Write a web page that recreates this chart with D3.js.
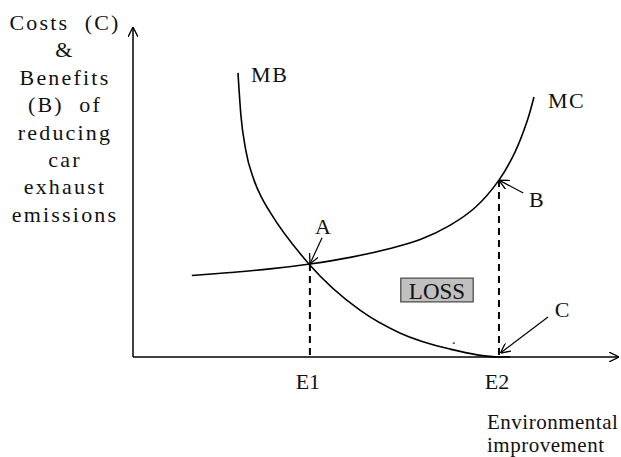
<!DOCTYPE html>
<html>
<head>
<meta charset="utf-8">
<script src="https://cdn.jsdelivr.net/npm/d3@7"></script>
<style>
  body { margin: 0; background: #fff; }
  text { font-family: "Liberation Serif", "Times New Roman", serif; fill: #111; }
</style>
</head>
<body>
<div id="chart"></div>
<script>
// curve data (abstract units, 0-10 on both axes)
var mbX = [2.16, 2.22, 2.32, 2.49, 2.65, 2.82, 3.62, 4.67, 5.49, 6.52, 7.53, 7.76]
var mbY = [8.61, 7.33, 6.27, 5.36, 4.82, 4.39, 2.82, 1.42, 0.73, 0.24, 0.00, 0.00]

var mcX = [1.21, 2.00, 2.82, 3.64, 4.47, 5.29, 5.91, 6.52, 7.04, 7.53, 7.86, 8.11, 8.25]
var mcY = [2.47, 2.56, 2.67, 2.82, 3.02, 3.29, 3.56, 3.99, 4.53, 5.36, 6.21, 7.15, 7.88]

// equilibrium points on the x axis
var eLabels = ["E1", "E2"]
var eX = [3.64, 7.53]
var eTop = [2.82, 5.36]

var yLabelLines = ["Costs  (C)", "&", "Benefits", "(B)  of", "reducing", "car", "exhaust", "emissions"]
var xLabelLines = ["Environmental", "improvement"]

var width = 621
var height = 457

var svg = d3.select("#chart")
    .append("svg")
    .attr("width", width)
    .attr("height", height)

var x = d3.scaleLinear()
    .domain([0, 10])
    .range([133, 619])

var y = d3.scaleLinear()
    .domain([0, 10])
    .range([357, 27])

// arrow heads (open V)
var defs = svg.append("defs")
defs.append("marker")
    .attr("id", "arr")
    .attr("viewBox", "0 0 10 10")
    .attr("refX", 10)
    .attr("refY", 5)
    .attr("markerWidth", 10)
    .attr("markerHeight", 10)
    .attr("markerUnits", "userSpaceOnUse")
    .attr("orient", "auto")
    .append("path")
    .attr("d", "M0,0 L10,5 L0,10")
    .attr("fill", "none")
    .attr("stroke", "#000")
    .attr("stroke-width", 1.3)

// axes
svg.append("line")
    .attr("x1", x(0)).attr("y1", y(0))
    .attr("x2", x(0)).attr("y2", y(10))
    .attr("stroke", "#000")
    .attr("stroke-width", 1.5)
    .attr("marker-end", "url(#arr)")

svg.append("line")
    .attr("x1", x(0)).attr("y1", y(0))
    .attr("x2", x(10)).attr("y2", y(0))
    .attr("stroke", "#000")
    .attr("stroke-width", 1.5)
    .attr("marker-end", "url(#arr)")

var mbLine = d3.line()
    .x(d => x(d[0]))
    .y(d => y(d[1]))
    .curve(d3.curveMonotoneX)

var mcLine = d3.line()
    .x(d => x(d[0]))
    .y(d => y(d[1]))
    .curve(d3.curveCatmullRom.alpha(0.5))

//MB and MC curves
svg.append("path")
    .datum(d3.zip(mbX, mbY))
    .attr("d", mbLine)
    .attr("fill", "none")
    .attr("stroke", "#000")
    .attr("stroke-width", 1.6)

svg.append("path")
    .datum(d3.zip(mcX, mcY))
    .attr("d", mcLine)
    .attr("fill", "none")
    .attr("stroke", "#000")
    .attr("stroke-width", 1.6)

// dashed drop lines
svg.selectAll(".drop")
    .data(eX)
    .enter()
    .append("line")
    .attr("x1", d => x(d)).attr("x2", d => x(d))
    .attr("y1", (d, i) => y(eTop[i]))
    .attr("y2", y(0))
    .attr("stroke", "#000")
    .attr("stroke-width", 2)
    .attr("stroke-dasharray", "7,5")

svg.selectAll(".eLabel")
    .data(eLabels)
    .enter()
    .append("text")
    .attr("x", (d, i) => x(eX[i]) - 2)
    .attr("y", 389)
    .attr("text-anchor", "middle")
    .style("font-size", "22px")
    .text(d => d)

// curve names
svg.append("text")
    .attr("x", x(2.43)).attr("y", y(8.33))
    .style("font-size", "22px")
    .style("letter-spacing", "1.5px")
    .text("MB")

svg.append("text")
    .attr("x", x(8.54)).attr("y", y(7.55))
    .style("font-size", "22px")
    .style("letter-spacing", "1.5px")
    .text("MC")

// point labels with arrows: [text x, text y, tail x, tail y, tip x, tip y]
var pointNames = ["A", "B", "C"]
var pointPos = [
    [3.91, 3.73, 3.89, 3.61, 3.64, 2.82],
    [8.30, 4.55, 8.03, 4.97, 7.53, 5.36],
    [8.83, 1.21, 8.54, 1.21, 7.56, 0.12]
]

pointPos.forEach((p, i) => {
    svg.append("line")
        .attr("x1", x(p[2])).attr("y1", y(p[3]))
        .attr("x2", x(p[4])).attr("y2", y(p[5]))
        .attr("stroke", "#000")
        .attr("stroke-width", 1.2)
        .attr("marker-end", "url(#arr)")
    svg.append("text")
        .attr("x", x(p[0])).attr("y", y(p[1]))
        .attr("text-anchor", "middle")
        .style("font-size", "22px")
        .text(pointNames[i])
})

// LOSS box
var lossG = svg.append("g")
lossG.append("rect")
    .attr("x", x(5.51)).attr("y", y(2.39))
    .attr("width", x(7.00) - x(5.51))
    .attr("height", y(1.67) - y(2.39))
    .attr("fill", "#c0c0c0")
    .attr("stroke", "#444")
    .attr("stroke-width", 1.2)
lossG.append("text")
    .attr("x", (x(5.51) + x(7.00)) / 2)
    .attr("y", y(1.77))
    .attr("text-anchor", "middle")
    .style("font-size", "23px")
    .text("LOSS")

// stray mark in the original
svg.append("line")
    .attr("x1", x(6.58)).attr("x2", x(6.62))
    .attr("y1", y(0.42)).attr("y2", y(0.42))
    .attr("stroke", "#333")
    .attr("stroke-width", 1.5)

// y axis title
svg.append("text")
    .attr("text-anchor", "middle")
    .style("font-size", "22px")
    .style("letter-spacing", "2.2px")
    .style("white-space", "pre")
    .selectAll("tspan")
    .data(yLabelLines)
    .enter()
    .append("tspan")
    .attr("x", 65)
    .attr("y", (d, i) => 30 + i * 27.4)
    .text(d => d)

// x axis title
svg.append("text")
    .style("font-size", "21px")
    .style("letter-spacing", "0.5px")
    .selectAll("tspan")
    .data(xLabelLines)
    .enter()
    .append("tspan")
    .attr("x", 487)
    .attr("y", (d, i) => 429 + i * 23)
    .text(d => d)
</script>
</body>
</html>
